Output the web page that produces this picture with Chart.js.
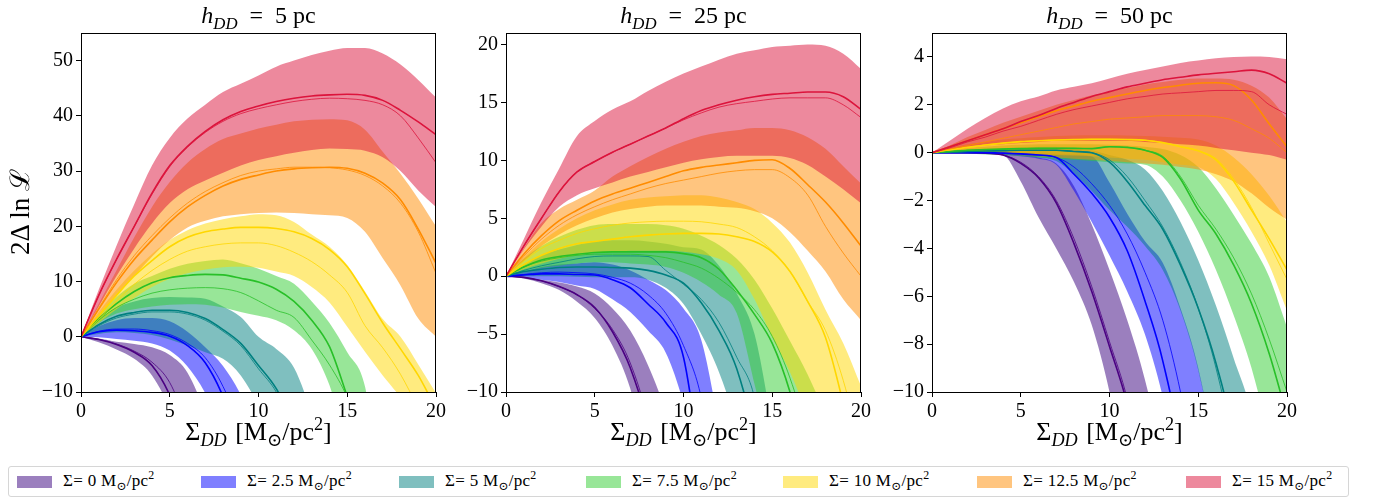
<!DOCTYPE html>
<html><head><meta charset="utf-8">
<script src="https://cdn.jsdelivr.net/npm/chart.js@4.4.1/dist/chart.umd.min.js"></script>
<style>
body{margin:0;width:1379px;height:502px;position:relative;background:#fff;overflow:hidden;font-family:"Liberation Serif","DejaVu Serif",serif;color:#000}
canvas{position:absolute;top:0}
.ttl{position:absolute;top:2px;width:360px;text-align:center;font-size:24px;line-height:26px;white-space:nowrap}
.xl{position:absolute;top:418px;width:360px;text-align:center;font-size:26px;line-height:28px;white-space:nowrap;word-spacing:2px}
sub,sup{font-size:70%;line-height:0}
.yl{position:absolute;left:-80px;top:198px;width:200px;text-align:center;font-size:27px;line-height:28px;white-space:nowrap;transform:rotate(-90deg)}
#legend{position:absolute;left:8px;top:466px;width:1341px;height:31px;border:1px solid #d6d6d6;border-radius:3px;box-sizing:border-box}
.lp{position:absolute;top:9px;width:35px;height:12px}
.lt{position:absolute;top:3px;font-size:17px;line-height:22px;white-space:nowrap;letter-spacing:0.3px}
</style></head>
<body>
<div id="legend"></div>
<script>
// ---------- data (x = Sigma_DD in Msun/pc^2) ----------
const XS = [0,1,2,3,4,5,6,7,8,9,10,11,12,13,14,15,16,17,18,19,20];
const SIGMA_LABELS = ['0','2.5','5','7.5','10','12.5','15'];
const H_VALUES = [5, 25, 50];
const X_TICKS = [0,5,10,15,20];
const Y_TICKS_H5 = [-10,0,10,20,30,40,50];
const Y_TICKS_H25 = [-10,-5,0,5,10,15,20];
const Y_TICKS_H50 = [-10,-8,-6,-4,-2,0,2,4];
const Y_MIN = [-10,-10,-10];
const Y_MAX = [55,21,5];

// h_DD = 5 pc : hi / lo band edges, thick line (med), thin line (alt)
const h5_s0_hi  = [0,-0.3,-0.9,-1.3,-1.9,-3.3,-6.5,-14,-25,-30,-30,-30,-30,-30,-30,-30,-30,-30,-30,-30,-30];
const h5_s0_lo  = [0,-1,-2.3,-4,-7,-13,-22,-30,-30,-30,-30,-30,-30,-30,-30,-30,-30,-30,-30,-30,-30];
const h5_s0_med = [0,-0.5,-1.4,-2.8,-5.2,-10.6,-20,-30,-30,-30,-30,-30,-30,-30,-30,-30,-30,-30,-30,-30,-30];
const h5_s0_alt = [0,-0.45,-1.3,-2.6,-4.6,-8.3,-16,-25,-30,-30,-30,-30,-30,-30,-30,-30,-30,-30,-30,-30,-30];
const h5_s1_hi  = [0,1.9,3,3.4,3.4,2.8,0.9,-1.9,-5.3,-10.5,-18,-30,-30,-30,-30,-30,-30,-30,-30,-30,-30];
const h5_s1_lo  = [0,-0.1,-0.4,-0.7,-1.2,-2.5,-5.4,-10.2,-17,-25,-30,-30,-30,-30,-30,-30,-30,-30,-30,-30,-30];
const h5_s1_med = [0,0.9,1.2,1.1,0.8,0.1,-1.6,-4.7,-10.8,-20,-30,-30,-30,-30,-30,-30,-30,-30,-30,-30,-30];
const h5_s1_alt = [0,1,1.4,1.4,1.1,0.4,-1.2,-3.8,-9,-17,-30,-30,-30,-30,-30,-30,-30,-30,-30,-30,-30];
const h5_s2_hi  = [0,3,5.3,6.4,7,7.2,7.1,6.9,5.5,3.6,0,-2.2,-5.6,-14,-25,-30,-30,-30,-30,-30,-30];
const h5_s2_lo  = [0,0.5,0.8,0.7,0.3,-0.5,-1.6,-2.8,-4,-7,-12.5,-20,-30,-30,-30,-30,-30,-30,-30,-30,-30];
const h5_s2_med = [0,2.2,3.7,4.4,4.8,4.8,4.4,3.3,1.3,-1.2,-5.2,-9.4,-16,-25,-30,-30,-30,-30,-30,-30,-30];
const h5_s2_alt = [0,2,3.4,4.1,4.5,4.5,4.1,3,1,-1.6,-5.8,-10,-17,-25,-30,-30,-30,-30,-30,-30,-30];
const h5_s3_hi  = [0,4,7.2,9.6,11,12.3,13.2,13.7,14,13.3,12.3,11,9.6,6.4,2.5,-2.8,-9,-30,-30,-30,-30];
const h5_s3_lo  = [0,2.5,4.2,5,5.5,5.8,5.9,5.8,5.3,4.5,3.8,3,1.2,-2.2,-8.8,-20,-30,-30,-30,-30,-30];
const h5_s3_med = [0,3.3,6,8.2,9.8,10.7,11.1,11.3,11.2,10.6,9.9,8.6,6.4,3,-1.8,-10.8,-20,-30,-30,-30,-30];
const h5_s3_alt = [0,3,5.3,6.8,7.9,8.5,8.8,8.9,8.7,8,6.5,4.8,3.5,-0.6,-5.1,-11,-20,-30,-30,-30,-30];
const h5_s4_hi  = [0,4.5,8.5,12,15,17.5,19.3,20.5,21.3,21.8,22.2,22,20.8,18.5,16.3,13,8.2,3.2,0,-5,-10.2];
const h5_s4_lo  = [0,2.5,5,7,9,10.5,11.5,12.2,12.6,12.7,12.5,11.8,11,9,6.2,1.8,-2.7,-7,-11,-16,-22];
const h5_s4_med = [0,3.8,7.5,11,13.8,16.3,18,19,19.5,19.8,19.8,19.6,19,17.8,15.8,12.7,7.8,2.5,-2.2,-7,-13];
const h5_s4_alt = [0,3.2,6.5,9.5,12,14,15.5,16.3,16.8,17,17,16.5,15.3,13.6,11.2,8,2,-2,-6.8,-13,-20];
const h5_s5_hi  = [0,6,12,18,23.5,28,31.5,34,35.8,36.8,37.7,38.4,39,39.3,39.4,39.2,37.5,33.5,29.5,25,20];
const h5_s5_lo  = [0,3.5,7.5,11,14.5,17.5,19.8,21,21.8,22.2,22.4,22.5,22.4,22.2,22,21.5,19,14.2,9.3,3.3,0];
const h5_s5_med = [0,5,9.8,14,17.5,20.8,23.5,25.6,27.3,28.5,29.3,30,30.4,30.6,30.7,30.5,29.6,27.8,24.8,19.5,13.3];
const h5_s5_alt = [0,5.2,10.3,14.7,18.3,21.5,24.2,26.3,27.9,29.2,30,30.4,30.7,30.7,30.6,30.2,29.2,27.3,24.2,19,11.5];
const h5_s6_hi  = [0,8.5,16.5,24,31,36,39.5,42,44.3,45.8,47.3,48.9,50,51,51.8,52.3,52.3,51.3,49.3,46.5,43.3];
const h5_s6_lo  = [0,5.5,11,16,20.5,24.2,26.7,28.3,29.7,31,32,32.7,33.3,33.8,34.1,34,33.7,32.5,30,26.5,23.5];
const h5_s6_med = [0,7.5,14,20,26,31,34.5,37.2,39.3,40.8,41.8,42.6,43.2,43.6,43.8,43.9,43.7,42.8,41,38.9,36.6];
const h5_s6_alt = [0,7.5,14,20,25.8,30.8,34.3,37,39,40.4,41.3,42,42.6,43,43.2,43.1,42.8,42,40,36,31.5];

// h_DD = 25 pc
const h25_s0_hi  = [0,-0.1,-0.3,-0.55,-0.9,-1.5,-2.8,-4.7,-7.7,-12,-20,-30,-30,-30,-30,-30,-30,-30,-30,-30,-30];
const h25_s0_lo  = [0,-0.2,-0.6,-1.2,-2.2,-3.6,-6,-9.7,-16,-25,-30,-30,-30,-30,-30,-30,-30,-30,-30,-30,-30];
const h25_s0_med = [0,-0.1,-0.4,-0.9,-1.6,-2.7,-4.8,-7.9,-13,-22,-30,-30,-30,-30,-30,-30,-30,-30,-30,-30,-30];
const h25_s0_alt = [0,-0.1,-0.4,-0.9,-1.6,-2.8,-4.6,-7.5,-12.5,-21,-30,-30,-30,-30,-30,-30,-30,-30,-30,-30,-30];
const h25_s1_hi  = [0,0.4,0.8,1,1.1,1.2,1,0.5,-0.3,-1.2,-2.8,-5.5,-13,-22,-30,-30,-30,-30,-30,-30,-30];
const h25_s1_lo  = [0,-0.1,-0.3,-0.5,-0.8,-1.1,-2,-3.1,-4.7,-6.6,-11,-18,-30,-30,-30,-30,-30,-30,-30,-30,-30];
const h25_s1_med = [0,0.1,0.2,0.2,0.15,0.1,-0.3,-1,-2.4,-4,-7,-17,-30,-30,-30,-30,-30,-30,-30,-30,-30];
const h25_s1_alt = [0,0.15,0.3,0.35,0.3,0.2,-0.1,-0.6,-1.6,-3.2,-6,-10.5,-20,-30,-30,-30,-30,-30,-30,-30,-30];
const h25_s2_hi  = [0,1,1.8,2.3,2.7,3,3.1,3.1,3,2.8,2.5,2.3,0.9,-1.5,-5,-13,-22,-30,-30,-30,-30];
const h25_s2_lo  = [0,0,0,0,-0.05,-0.1,-0.1,-0.1,-0.3,-1,-2.4,-5,-8.3,-13,-20,-30,-30,-30,-30,-30,-30];
const h25_s2_med = [0,0.4,0.6,0.75,0.8,0.8,0.75,0.7,0.5,0.1,-0.6,-2.3,-4.7,-8,-14,-25,-30,-30,-30,-30,-30];
const h25_s2_alt = [0,0.5,0.9,1.2,1.5,1.7,1.75,1.75,1.7,0.5,-0.7,-2,-4,-7,-10.5,-20,-30,-30,-30,-30,-30];
const h25_s3_hi  = [0,1.5,2.6,3.4,4,4.4,4.5,4.5,4.5,4.4,4.1,3.5,2.7,1.5,-0.3,-2.8,-5.6,-8.5,-12,-16,-20];
const h25_s3_lo  = [0,0.4,0.7,0.9,1.1,1.2,1.2,1.1,1,0.8,0.3,-0.5,-1.6,-3.2,-9.3,-16,-25,-30,-30,-30,-30];
const h25_s3_med = [0,0.8,1.4,1.7,1.9,2.05,2.1,2.1,2.1,2.1,1.95,1.6,0.6,-1.2,-3.3,-5.8,-10,-16,-25,-30,-30];
const h25_s3_alt = [0,0.8,1.3,1.6,1.8,1.9,1.9,1.9,1.8,1.6,1.2,0.7,-0.2,-1.4,-2.9,-5.2,-8.8,-14,-22,-30,-30];
const h25_s4_hi  = [0,1.6,3,4.1,5,5.7,6.2,6.6,6.8,6.9,7,7,6.8,6.4,5.8,4.6,2.9,0.3,-2.9,-5.8,-9.5];
const h25_s4_lo  = [0,0.6,1.1,1.5,1.8,2,2.1,2.2,2.2,2.2,2.1,1.9,1.5,0.5,-2,-5.3,-8.3,-12,-16,-22,-30];
const h25_s4_med = [0,1,1.8,2.4,2.8,3,3.2,3.4,3.55,3.65,3.7,3.7,3.65,3.4,3,2.1,0.4,-2.2,-5.3,-11,-18];
const h25_s4_alt = [0,1.3,2.4,3.1,3.7,4.1,4.4,4.6,4.7,4.75,4.75,4.7,4.5,4.2,3.4,2.2,0.4,-2.2,-4.7,-9,-15];
const h25_s5_hi  = [0,2.4,4.6,5.8,6.6,7.4,8.6,9.5,10.3,11,11.6,12.1,12.4,12.6,12.8,12.8,12.6,12,11,9.5,8];
const h25_s5_lo  = [0,1.3,2.6,3.6,4.4,5,5.5,5.8,6,6.1,6.1,6.1,6,5.9,5.6,5,3.8,2.2,0.4,-2,-3.8];
const h25_s5_med = [0,1.9,3.5,4.8,5.7,6.5,7.1,7.6,8.1,8.6,9.1,9.4,9.6,9.8,10,10.05,9.3,7.9,6.4,4.6,2.6];
const h25_s5_alt = [0,1.7,3.2,4.4,5.3,6,6.6,7.1,7.6,8,8.3,8.6,8.9,9.1,9.2,9.2,8.5,7,4.3,2,0];
const h25_s6_hi  = [0,3.2,6.4,9.3,12.1,13.4,14.4,15.1,16,16.8,17.5,18.1,18.7,19.2,19.5,19.8,19.9,20,19.9,19.2,17.9];
const h25_s6_lo  = [0,2.3,4.3,6,7,7.6,8.1,8.6,9,9.4,9.8,10.1,10.3,10.4,10.4,10.4,10.2,9.6,8.6,7.5,6.3];
const h25_s6_med = [0,2.6,5,7.3,9,9.9,10.7,11.4,12.1,12.8,13.6,14.3,14.8,15.2,15.5,15.7,15.8,15.9,15.9,15.5,14.4];
const h25_s6_alt = [0,2.6,5,7.3,9,9.9,10.7,11.4,12.1,12.8,13.5,14.1,14.6,14.9,15.1,15.3,15.4,15.4,15.4,14.8,13.7];

// h_DD = 50 pc
const h50_s0_hi  = [0,0,0,-0.01,-0.03,-0.05,-0.2,-0.45,-1.4,-3,-4.9,-7,-9.5,-13,-20,-30,-30,-30,-30,-30,-30];
const h50_s0_lo  = [0,0,-0.01,-0.03,-0.1,-1.2,-2.7,-4,-5.4,-7.2,-10,-14,-20,-30,-30,-30,-30,-30,-30,-30,-30];
const h50_s0_med = [0,0,0,-0.02,-0.1,-0.45,-1.05,-2.1,-3.8,-5.8,-8.1,-10.5,-14,-20,-30,-30,-30,-30,-30,-30,-30];
const h50_s0_alt = [0,0,0,-0.02,-0.1,-0.4,-1,-2,-3.6,-5.6,-7.9,-10.3,-14,-20,-30,-30,-30,-30,-30,-30,-30];
const h50_s1_hi  = [0,0.02,0.03,0.03,0.02,0,-0.03,-0.05,-0.08,-0.15,-1.25,-2.55,-3.7,-4.6,-6.5,-9,-13,-20,-30,-30,-30];
const h50_s1_lo  = [0,0,-0.02,-0.05,-0.1,-0.15,-0.25,-0.5,-1.6,-2.9,-4.3,-5.8,-7.6,-10.2,-14,-20,-30,-30,-30,-30,-30];
const h50_s1_med = [0,0,0,0,-0.02,-0.05,-0.1,-0.2,-0.9,-1.7,-2.7,-4.1,-6.2,-8.7,-12.5,-20,-30,-30,-30,-30,-30];
const h50_s1_alt = [0,0,0,0,-0.02,-0.05,-0.1,-0.2,-0.6,-1.3,-2.2,-3.4,-5,-7,-10,-14,-20,-30,-30,-30,-30];
const h50_s2_hi  = [0,0.05,0.1,0.15,0.2,0.22,0.25,0.25,0.2,0.1,-0.1,-0.3,-0.7,-1.6,-2.9,-4.5,-6.4,-8.6,-11,-16,-22];
const h50_s2_lo  = [0,0,0,-0.02,-0.05,-0.1,-0.2,-0.35,-0.9,-1.6,-2.4,-3.1,-3.9,-4.9,-6.6,-9.1,-13,-20,-30,-30,-30];
const h50_s2_med = [0,0.02,0.05,0.07,0.08,0.1,0.1,0.1,0.05,0,-0.4,-1.2,-2.2,-3.2,-4.7,-6.5,-8.8,-12,-18,-25,-30];
const h50_s2_alt = [0,0.02,0.05,0.07,0.08,0.1,0.1,0.1,0.05,0,-0.3,-1,-2,-3.1,-4.6,-6.5,-9,-12.5,-18,-25,-30];
const h50_s3_hi  = [0,0.1,0.2,0.25,0.3,0.33,0.35,0.35,0.35,0.35,0.33,0.3,0.25,0.15,-0.1,-0.6,-1.5,-2.6,-3.8,-5.2,-7.3];
const h50_s3_lo  = [0,-0.02,-0.05,-0.08,-0.1,-0.15,-0.2,-0.25,-0.3,-0.35,-0.4,-0.45,-0.5,-1,-2,-3.3,-4.9,-6.8,-9,-12,-16];
const h50_s3_med = [0,0.05,0.1,0.13,0.15,0.17,0.18,0.18,0.18,0.17,0.25,0.22,0.1,-0.2,-1.1,-2.4,-3.4,-4.7,-6.3,-8.4,-11];
const h50_s3_alt = [0,0.05,0.1,0.13,0.15,0.17,0.18,0.18,0.18,0.17,0.25,0.22,0.1,-0.15,-1,-2.2,-3.2,-4.4,-5.9,-7.8,-10];
const h50_s4_hi  = [0,0.2,0.35,0.45,0.55,0.6,0.65,0.7,0.72,0.73,0.73,0.72,0.7,0.67,0.62,0.55,0.3,-0.2,-0.9,-1.8,-2.9];
const h50_s4_lo  = [0,0,0,0,-0.02,-0.05,-0.08,-0.1,-0.12,-0.15,-0.2,-0.25,-0.3,-0.4,-0.5,-0.6,-1.1,-2.1,-3.3,-4.7,-6.6];
const h50_s4_med = [0,0.12,0.22,0.32,0.4,0.46,0.5,0.53,0.55,0.56,0.56,0.55,0.52,0.42,0.25,0.08,-0.3,-1.2,-2.4,-3.6,-4.9];
const h50_s4_alt = [0,0.12,0.22,0.32,0.4,0.46,0.5,0.53,0.55,0.56,0.56,0.55,0.52,0.42,0.25,0.08,-0.25,-1.1,-2.3,-3.8,-5.3];
const h50_s5_hi  = [0,0.3,0.65,0.95,1.25,1.5,1.75,2,2.2,2.4,2.55,2.7,2.85,2.95,3.05,3.1,3.1,3.05,2.8,2.3,1.4];
const h50_s5_lo  = [0,0,0,0,-0.05,-0.1,-0.15,-0.2,-0.25,-0.3,-0.35,-0.4,-0.45,-0.5,-0.6,-0.7,-0.9,-1.2,-1.7,-2.3,-2.8];
const h50_s5_med = [0,0.25,0.5,0.75,1,1.25,1.5,1.75,1.95,2.15,2.3,2.45,2.6,2.72,2.82,2.9,2.92,2.8,2.2,1.2,0.25];
const h50_s5_alt = [0,0.15,0.3,0.45,0.6,0.75,0.9,1.05,1.2,1.3,1.4,1.45,1.5,1.55,1.55,1.55,1.5,1.35,1,0.6,0];
const h50_s6_hi  = [0,0.5,1,1.45,1.85,2.15,2.35,2.6,2.75,2.9,3.1,3.3,3.45,3.6,3.75,3.85,3.95,4,4.02,4,3.9];
const h50_s6_lo  = [0,0.1,0.2,0.3,0.35,0.4,0.45,0.5,0.5,0.5,0.5,0.5,0.45,0.4,0.35,0.3,0.2,0.1,0,-0.1,-0.3];
const h50_s6_med = [0,0.25,0.5,0.75,1,1.3,1.55,1.85,2.1,2.35,2.55,2.75,2.9,3.05,3.15,3.25,3.32,3.38,3.45,3.3,2.9];
const h50_s6_alt = [0,0.2,0.45,0.65,0.9,1.1,1.35,1.6,1.8,1.95,2.1,2.25,2.35,2.45,2.5,2.55,2.6,2.6,2.55,2,1.6];

// ---------- styles ----------
const FILL_RGB = [[55,0,125],[0,0,255],[0,128,128],[50,205,50],[255,215,0],[255,140,0],[220,20,60]];
const LINE_COLORS = ['#4b0082','#0000ff','#008080','#28c028','#ffd700','#ff8c00','#dc143c'];
const FONT = '"Liberation Serif","DejaVu Serif",serif';

const PANEL_SERIES = [
  [[h5_s0_hi,h5_s0_lo,h5_s0_med,h5_s0_alt],[h5_s1_hi,h5_s1_lo,h5_s1_med,h5_s1_alt],[h5_s2_hi,h5_s2_lo,h5_s2_med,h5_s2_alt],
   [h5_s3_hi,h5_s3_lo,h5_s3_med,h5_s3_alt],[h5_s4_hi,h5_s4_lo,h5_s4_med,h5_s4_alt],[h5_s5_hi,h5_s5_lo,h5_s5_med,h5_s5_alt],
   [h5_s6_hi,h5_s6_lo,h5_s6_med,h5_s6_alt]],
  [[h25_s0_hi,h25_s0_lo,h25_s0_med,h25_s0_alt],[h25_s1_hi,h25_s1_lo,h25_s1_med,h25_s1_alt],[h25_s2_hi,h25_s2_lo,h25_s2_med,h25_s2_alt],
   [h25_s3_hi,h25_s3_lo,h25_s3_med,h25_s3_alt],[h25_s4_hi,h25_s4_lo,h25_s4_med,h25_s4_alt],[h25_s5_hi,h25_s5_lo,h25_s5_med,h25_s5_alt],
   [h25_s6_hi,h25_s6_lo,h25_s6_med,h25_s6_alt]],
  [[h50_s0_hi,h50_s0_lo,h50_s0_med,h50_s0_alt],[h50_s1_hi,h50_s1_lo,h50_s1_med,h50_s1_alt],[h50_s2_hi,h50_s2_lo,h50_s2_med,h50_s2_alt],
   [h50_s3_hi,h50_s3_lo,h50_s3_med,h50_s3_alt],[h50_s4_hi,h50_s4_lo,h50_s4_med,h50_s4_alt],[h50_s5_hi,h50_s5_lo,h50_s5_med,h50_s5_alt],
   [h50_s6_hi,h50_s6_lo,h50_s6_med,h50_s6_alt]]
];
const Y_TICKS = [Y_TICKS_H5, Y_TICKS_H25, Y_TICKS_H50];

// ---------- layout ----------
const CANVAS_LEFT = [0, 425, 851];
const CANVAS_W = 470, CANVAS_H = 460;
const AREA_LEFT = 81, AREA_RIGHT = 436, AREA_TOP = 33, AREA_BOTTOM = 392;

const rgba = (c,a) => `rgba(${c[0]},${c[1]},${c[2]},${a})`;
const fmt = v => (v < 0 ? '\u2212' + Math.abs(v) : String(v));
const pts = arr => XS.map((x,i) => ({x, y: arr[i]}));

const framePlugin = {
  id: 'frame',
  afterDraw(chart) {
    const a = chart.chartArea, ctx = chart.ctx;
    ctx.save();
    ctx.strokeStyle = '#000';
    ctx.lineWidth = 1;
    ctx.strokeRect(Math.floor(a.left) + 0.5, Math.floor(a.top) + 0.5,
                   Math.round(a.right - a.left) - 1, Math.round(a.bottom - a.top));
    ctx.restore();
  }
};

PANEL_SERIES.forEach((series, p) => {
  const cv = document.createElement('canvas');
  cv.width = CANVAS_W; cv.height = CANVAS_H;
  cv.style.left = CANVAS_LEFT[p] + 'px';
  document.body.appendChild(cv);

  const datasets = [];
  series.forEach((s, i) => {
    const [hi, lo, med, alt] = s;
    const loIndex = datasets.length + 1;
    const fillCol = rgba(FILL_RGB[i], 0.5);
    datasets.push({data: pts(hi), borderWidth: 0, pointRadius: 0, backgroundColor: fillCol,
                   fill: {target: loIndex, above: fillCol, below: fillCol}, order: 100 - i});
    datasets.push({data: pts(lo), borderWidth: 0, pointRadius: 0, fill: false, order: 100 - i});
    datasets.push({data: pts(med), borderColor: LINE_COLORS[i], borderWidth: 1.6, pointRadius: 0,
                   fill: false, order: 40 - 2 * i});
    datasets.push({data: pts(alt), borderColor: LINE_COLORS[i], borderWidth: 0.8, pointRadius: 0,
                   fill: false, order: 39 - 2 * i});
  });
  datasets.forEach(d => { d.cubicInterpolationMode = 'monotone'; });

  const tickFont = {family: FONT, size: 20};
  new Chart(cv, {
    type: 'line',
    data: {datasets},
    plugins: [framePlugin],
    options: {
      responsive: false, animation: false, devicePixelRatio: 1, events: [],
      layout: {padding: {left: 0, right: CANVAS_W - AREA_RIGHT, top: AREA_TOP, bottom: 0}},
      plugins: {legend: {display: false}, tooltip: {enabled: false}, title: {display: false}},
      scales: {
        x: {
          type: 'linear', min: 0, max: 20,
          afterBuildTicks: sc => { sc.ticks = X_TICKS.map(v => ({value: v})); },
          afterFit: sc => { sc.height = CANVAS_H - AREA_BOTTOM; },
          ticks: {font: tickFont, color: '#000', padding: 3, maxRotation: 0, autoSkip: false, callback: fmt},
          grid: {display: true, drawOnChartArea: false, drawTicks: true, tickLength: 5, tickColor: '#000', color: '#000'},
          border: {display: false}
        },
        y: {
          type: 'linear', min: Y_MIN[p], max: Y_MAX[p],
          afterBuildTicks: sc => { sc.ticks = Y_TICKS[p].map(v => ({value: v})); },
          afterFit: sc => { sc.width = AREA_LEFT; },
          ticks: {font: tickFont, color: '#000', padding: 3, autoSkip: false, callback: fmt},
          grid: {display: true, drawOnChartArea: false, drawTicks: true, tickLength: 5, tickColor: '#000', color: '#000'},
          border: {display: false}
        }
      }
    }
  });

  const cx = CANVAS_LEFT[p] + (AREA_LEFT + AREA_RIGHT) / 2;
  const t = document.createElement('div');
  t.className = 'ttl';
  t.style.left = (cx - 180) + 'px';
  t.innerHTML = `<i>h</i><sub><i>DD</i></sub>&ensp;=&ensp;${H_VALUES[p]} pc`;
  document.body.appendChild(t);

  const xl = document.createElement('div');
  xl.className = 'xl';
  xl.style.left = (cx - 180) + 'px';
  xl.innerHTML = 'Σ<sub><i>DD</i></sub> [M<sub>⊙</sub>/pc<sup>2</sup>]';
  document.body.appendChild(xl);
});

const yl = document.createElement('div');
yl.className = 'yl';
yl.innerHTML = '2Δ ln ℒ';
document.body.appendChild(yl);

// legend
const LEGEND_X = [8, 192, 390, 577, 774, 968, 1177];
const leg = document.getElementById('legend');
SIGMA_LABELS.forEach((lab, i) => {
  const pch = document.createElement('div');
  pch.className = 'lp';
  pch.style.left = LEGEND_X[i] + 'px';
  pch.style.background = rgba(FILL_RGB[i], 0.5);
  leg.appendChild(pch);
  const tx = document.createElement('div');
  tx.className = 'lt';
  tx.style.left = (LEGEND_X[i] + 46) + 'px';
  tx.innerHTML = `Σ= ${lab} M<sub>⊙</sub>/pc<sup>2</sup>`;
  leg.appendChild(tx);
});
</script>
</body></html>
